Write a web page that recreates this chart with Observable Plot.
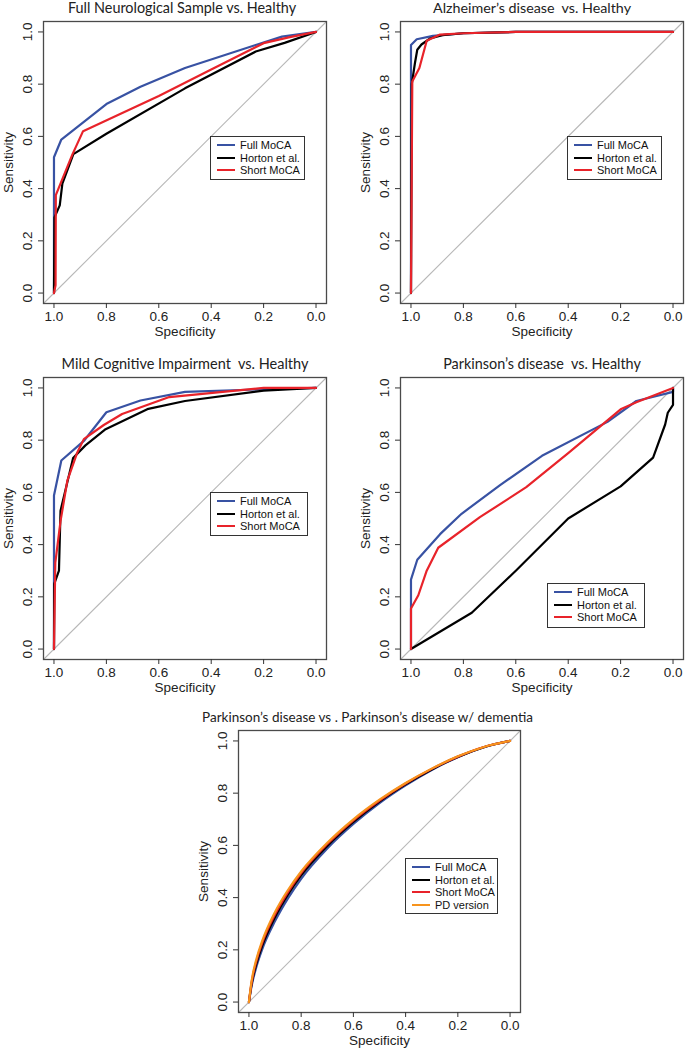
<!DOCTYPE html>
<html><head><meta charset="utf-8">
<script src="https://cdn.jsdelivr.net/npm/d3@7"></script>
<script src="https://cdn.jsdelivr.net/npm/@observablehq/plot@0.6"></script>
<style>
body{margin:0;background:#fff}
#wrap{position:relative;width:686px;height:1050px;overflow:hidden;background:#fff}
.panel{position:absolute}
.panel svg{overflow:visible}
.panel svg text{white-space:pre}
.legend{position:absolute;border:1px solid #333;background:#fff;box-sizing:border-box;font-family:"Liberation Sans",Arial,sans-serif;font-size:11px;color:#111}
.legend .row{position:absolute;left:0;height:12px;line-height:12px;white-space:nowrap}
.legend .sw{position:absolute;left:6px;top:5px;width:18px;height:2.2px}
.legend .lb{position:absolute;left:29px;top:0}
</style></head><body><div id="wrap"></div><script>
// ---------- data: [specificity, sensitivity] ----------
const tickVals = [0, 0.2, 0.4, 0.6, 0.8, 1.0];
const seriesNames = ["Full MoCA", "Horton et al.", "Short MoCA", "PD version"];
const titles = [
  "Full Neurological Sample vs. Healthy",
  "Alzheimer\u2019s disease  vs. Healthy",
  "Mild Cognitive Impairment  vs. Healthy",
  "Parkinson\u2019s disease  vs. Healthy",
  "Parkinson\u2019s disease vs . Parkinson\u2019s disease w/ dementia"
];

const neuroFull   = [[1,0],[1,0.52],[0.972,0.588],[0.8,0.724],[0.67,0.79],[0.5,0.862],[0.23,0.95],[0.13,0.982],[0,1]];
const neuroHorton = [[1,0],[0.998,0.29],[0.978,0.336],[0.968,0.419],[0.926,0.532],[0.8,0.61],[0.5,0.784],[0.23,0.925],[0.12,0.958],[0,1]];
const neuroShort  = [[1,0],[0.994,0.03],[0.993,0.375],[0.93,0.53],[0.889,0.62],[0.6,0.755],[0.4,0.856],[0.2,0.957],[0.1,0.98],[0,1]];

const adFull   = [[1,0],[1,0.95],[0.978,0.972],[0.916,0.985],[0.8,0.995],[0.6,1],[0,1]];
const adHorton = [[1,0],[0.997,0.8],[0.985,0.88],[0.976,0.932],[0.96,0.952],[0.927,0.975],[0.88,0.988],[0.8,0.995],[0.6,1],[0,1]];
const adShort  = [[1,0],[0.995,0.81],[0.968,0.862],[0.94,0.966],[0.889,0.99],[0.8,0.995],[0.6,1],[0,1]];

const mciFull   = [[1,0],[1,0.588],[0.972,0.722],[0.886,0.797],[0.8,0.907],[0.67,0.952],[0.5,0.985],[0.2,0.995],[0,1]];
const mciHorton = [[1,0],[0.999,0.25],[0.981,0.3],[0.975,0.53],[0.927,0.732],[0.88,0.78],[0.803,0.842],[0.64,0.92],[0.5,0.95],[0.2,0.99],[0,1]];
const mciShort  = [[1,0],[0.995,0.33],[0.975,0.49],[0.949,0.645],[0.911,0.753],[0.886,0.804],[0.81,0.858],[0.74,0.9],[0.56,0.965],[0.2,1],[0,1]];

const pdFull   = [[1,0],[1,0.266],[0.976,0.342],[0.889,0.44],[0.807,0.518],[0.66,0.628],[0.5,0.74],[0.25,0.87],[0.14,0.95],[0,0.985],[0,1]];
const pdHorton = [[1,0],[0.768,0.139],[0.6,0.3],[0.4,0.5],[0.2,0.623],[0.076,0.733],[0.03,0.86],[0.02,0.905],[0,0.935],[0,1]];
const pdShort  = [[1,0],[1,0.155],[0.972,0.206],[0.94,0.3],[0.896,0.388],[0.737,0.505],[0.56,0.62],[0.4,0.75],[0.2,0.918],[0.14,0.945],[0,1]];

const pddFull   = [[1,0],[0.99,0.06],[0.97,0.14],[0.95,0.2],[0.9,0.31],[0.85,0.398],[0.8,0.472],[0.7,0.588],[0.6,0.682],[0.5,0.762],[0.4,0.83],[0.3,0.889],[0.2,0.938],[0.1,0.976],[0,1]];
const pddHorton = [[1,0],[0.99,0.068],[0.97,0.152],[0.95,0.213],[0.9,0.325],[0.85,0.412],[0.8,0.485],[0.7,0.598],[0.6,0.69],[0.5,0.768],[0.4,0.834],[0.3,0.891],[0.2,0.939],[0.1,0.976],[0,1]];
const pddShort  = [[1,0],[0.99,0.074],[0.97,0.162],[0.95,0.224],[0.9,0.336],[0.85,0.422],[0.8,0.494],[0.7,0.605],[0.6,0.696],[0.5,0.772],[0.4,0.837],[0.3,0.893],[0.2,0.94],[0.1,0.977],[0,1]];
const pddPD     = [[1,0],[0.99,0.08],[0.97,0.17],[0.95,0.232],[0.9,0.345],[0.85,0.43],[0.8,0.5],[0.7,0.61],[0.6,0.7],[0.5,0.775],[0.4,0.839],[0.3,0.894],[0.2,0.941],[0.1,0.977],[0,1]];

// ---------- styling / layout ----------
const colors = ["#3852a3", "#000000", "#e8232a", "#f7941d"];
const xDomain = [1.04, -0.04];
const yDomain = [-0.04, 1.04];

const panels = [
  {left: 0,   top: 0,   w: 343, h: 345, m: [21, 17, 42, 43], title: titles[0], tfs: 14.4, tdx: -3, series: [neuroFull, neuroHorton, neuroShort],
   legend: {left: 210, top: 136, w: 95, h: 44}},
  {left: 343, top: 0,   w: 343, h: 345, m: [21, 3, 42, 57], title: titles[1], tfs: 14.3, tdx: -10, series: [adFull, adHorton, adShort],
   legend: {left: 567, top: 136, w: 95, h: 44}},
  {left: 0,   top: 345, w: 343, h: 345, m: [32, 17, 31, 43], title: titles[2], tfs: 14.5, tdx: 0, series: [mciFull, mciHorton, mciShort],
   legend: {left: 210, top: 492, w: 98, h: 44}},
  {left: 343, top: 345, w: 343, h: 345, m: [32, 3, 31, 57], title: titles[3], tfs: 14.4, tdx: 0, series: [pdFull, pdHorton, pdShort],
   legend: {left: 547, top: 583, w: 98, h: 45}},
  {left: 170, top: 690, w: 360, h: 360, m: [40, 10, 38, 68], title: titles[4], tfs: 13.5, tdx: -12, series: [pddFull, pddHorton, pddShort, pddPD],
   curve: "monotone-x", legend: {left: 405, top: 858, w: 93, h: 56}}
];

const wrap = document.getElementById("wrap");

for (const p of panels) {
  const [mt, mr, mb, ml] = p.m;
  const marks = [
    Plot.link([0], {x1: () => xDomain[0], y1: () => yDomain[0], x2: () => xDomain[1], y2: () => yDomain[1], stroke: "#b8b8b8", strokeWidth: 1.1}),
    ...p.series.map((s, i) => Plot.line(s, {x: d => d[0], y: d => d[1], stroke: colors[i], strokeWidth: 2.2, strokeLinejoin: "round", curve: p.curve || "linear"})),
    Plot.frame({stroke: "#4a4a4a", strokeWidth: 1.3}),
    Plot.axisX({ticks: tickVals, tickSize: 5, tickFormat: () => "", label: null, stroke: "#333"}),
    Plot.axisY({ticks: tickVals, tickSize: 5, tickFormat: () => "", label: null, stroke: "#333"}),
    Plot.text(tickVals, {x: d => d, text: d => d.toFixed(1), frameAnchor: "bottom", dy: 17.5, lineAnchor: "bottom", fill: "#222"}),
    Plot.text(tickVals, {y: d => d, text: d => d.toFixed(1), frameAnchor: "left", dx: -12, rotate: -90, textAnchor: "middle", lineAnchor: "bottom", fill: "#222"}),
    Plot.text(["Specificity"], {text: d => d, frameAnchor: "bottom", dy: 32, lineAnchor: "bottom", fill: "#222"}),
    Plot.text(["Sensitivity"], {text: d => d, frameAnchor: "left", dx: -31, rotate: -90, textAnchor: "middle", lineAnchor: "bottom", fill: "#222"}),
    Plot.text([p.title], {text: d => d, frameAnchor: "top", dy: -9, dx: p.tdx, lineAnchor: "bottom", fontFamily: "Lato, 'Open Sans', sans-serif", fontSize: p.tfs, fill: "#222"})
  ];
  const chart = Plot.plot({
    width: p.w, height: p.h,
    marginTop: mt, marginRight: mr, marginBottom: mb, marginLeft: ml,
    x: {domain: xDomain},
    y: {domain: yDomain},
    style: {fontFamily: "'Liberation Sans', Arial, sans-serif", fontSize: "13.5px", background: "none", overflow: "visible"},
    marks
  });
  const holder = document.createElement("div");
  holder.className = "panel";
  holder.style.left = p.left + "px";
  holder.style.top = p.top + "px";
  holder.style.width = p.w + "px";
  holder.style.height = p.h + "px";
  holder.appendChild(chart);
  wrap.appendChild(holder);

  // legend
  const L = p.legend;
  const lg = document.createElement("div");
  lg.className = "legend";
  Object.assign(lg.style, {left: L.left + "px", top: L.top + "px", width: L.w + "px", height: L.h + "px"});
  p.series.forEach((s, i) => {
    const row = document.createElement("div");
    row.className = "row";
    row.style.top = (2 + i * 12.5) + "px";
    row.style.width = "100%";
    const sw = document.createElement("div");
    sw.className = "sw";
    sw.style.background = colors[i];
    const lb = document.createElement("div");
    lb.className = "lb";
    lb.textContent = seriesNames[i];
    row.appendChild(sw); row.appendChild(lb);
    lg.appendChild(row);
  });
  wrap.appendChild(lg);
}
</script></body></html>
